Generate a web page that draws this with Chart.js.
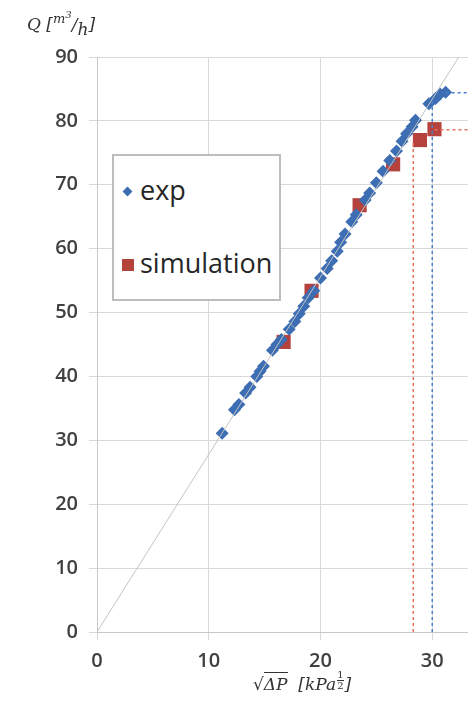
<!DOCTYPE html>
<html>
<head>
<meta charset="utf-8">
<script src="https://cdn.jsdelivr.net/npm/chart.js@4.4.1/dist/chart.umd.min.js"></script>
<style>
  html, body { margin: 0; padding: 0; background: #fff; }
  #wrap { position: relative; width: 468px; height: 701px; overflow: hidden; }
  #chart { position: absolute; left: 0; top: 0; }
  .mathtxt { position: absolute; font-family: 'DejaVu Serif', serif; font-style: italic; color: #333; white-space: nowrap; }
  #ytitle { left: 27px; top: 14px; font-size: 17px; }
  #xtitle { left: 253px; top: 674px; font-size: 17px; }
  .up { position: relative; top: -7px; font-size: 13px; }
  .dn { position: relative; top: 5px; }
  .frac { display: inline-block; vertical-align: middle; font-size: 10px; line-height: 10px; text-align: center; font-style: normal; position: relative; top: -5px; margin: 0 1px; }
  .frac b { display: block; font-weight: normal; }
  .frac .den { border-top: 1px solid #333; }
  .ovl { border-top: 1px solid #333; padding-top: 1px; }
  #legend { position: absolute; left: 112px; top: 154px; width: 165px; height: 143px; border: 2px solid #bdbdbd; background: #fff; font-family: 'Open Sans', sans-serif; font-size: 27px; color: #262626; }
  .lrow { position: absolute; left: 0; height: 34px; line-height: 34px; }
  .lrow span.txt { position: absolute; left: 26px; top: 0; }
  .mk { position: absolute; }
  .mk.exp { left: 10px; top: 15px; width: 7px; height: 7px; background: #3d6db3; transform: rotate(45deg); }
  .mk.sim { left: 8px; top: 13px; width: 12px; height: 12px; background: #b5423d; }
</style>
</head>
<body>
<div id="wrap">
  <canvas id="chart" width="468" height="701"></canvas>
  <div id="ytitle" class="mathtxt">Q [<span class="up">m<sup style="font-size:10px">3</sup></span>/<span class="dn">h</span>]</div>
  <div id="xtitle" class="mathtxt"><span style="font-style:normal">√</span><span class="ovl">ΔP</span>&nbsp; [kPa<span class="frac"><b>1</b><b class="den">2</b></span>]</div>
  <div id="legend">
    <div class="lrow" style="top:17px"><span class="mk exp"></span><span class="txt">exp</span></div>
    <div class="lrow" style="top:90px"><span class="mk sim"></span><span class="txt">simulation</span></div>
  </div>
</div>
<script>
// ── Data ─────────────────────────────────────────────────────────
const xTicks = [0, 10, 20, 30];
const yTicks = [0, 10, 20, 30, 40, 50, 60, 70, 80, 90];

// exp (blue diamonds)
const expX = [11.2, 12.3, 12.7, 13.3, 13.7, 14.3, 14.6, 14.9, 15.7, 16.1, 16.5, 17.2, 17.7,
              18.1, 18.5, 18.9, 19.4, 20.0, 20.6, 21.0, 21.5, 21.8, 22.2, 22.8, 23.2, 24.0,
              24.4, 25.0, 25.6, 26.2, 26.8, 27.3, 27.7, 28.2, 28.5, 29.7, 30.3, 30.7, 31.2];
const expY = [31.1, 34.8, 35.6, 37.4, 38.3, 40.0, 40.8, 41.6, 44.1, 45.0, 45.8, 47.4, 48.6,
              49.8, 51.0, 52.3, 53.4, 55.4, 56.9, 58.1, 59.6, 61.0, 62.3, 64.2, 65.3, 67.6,
              68.7, 70.3, 72.1, 73.8, 75.3, 76.8, 78.0, 79.1, 80.1, 82.7, 83.5, 84.2, 84.5];

// simulation (red squares)
const simX = [16.7, 19.2, 23.5, 26.5, 28.9, 30.2];
const simY = [45.4, 53.4, 66.8, 73.2, 77.0, 78.7];

// thin reference line through origin
const fitX = [0, 33.2];
const fitY = [0, 92.3];

// dotted guide lines
const expGuideX = [30.0, 30.0, 31.2, 33.2];
const expGuideY = [0, 83.6, 84.4, 84.4];
const simGuideX = [28.3, 28.3, 30.2, 33.2];
const simGuideY = [0, 77.0, 78.6, 78.6];

const X_MAX = 33.2;
const Y_MAX = 90;

const pts = (xs, ys) => xs.map((x, i) => ({ x, y: ys[i] }));
const seg = (xs, ys, a, b) => [{ x: xs[a], y: ys[a] }, { x: xs[b], y: ys[b] }];

// ── Chart ────────────────────────────────────────────────────────
const GRID = '#d9d9d9';
const TICK_FONT = { family: "'Open Sans', sans-serif", size: 20, weight: '600' };

const lineDs = (data, color, width, dash) => ({
  type: 'line', data, borderColor: color, borderWidth: width, borderDash: dash,
  pointRadius: 0, showLine: true, fill: false, tension: 0,
});

new Chart(document.getElementById('chart').getContext('2d'), {
  type: 'scatter',
  data: {
    datasets: [
      lineDs(pts(fitX, fitY), '#c4c4c4', 1, []),
      lineDs(seg(expGuideX, expGuideY, 0, 1), '#4a7fcf', 1.5, [3, 3]),
      lineDs(seg(expGuideX, expGuideY, 2, 3), '#4a7fcf', 1.5, [3, 3]),
      lineDs(seg(simGuideX, simGuideY, 0, 1), '#e5765a', 1.5, [3, 3]),
      lineDs(seg(simGuideX, simGuideY, 2, 3), '#e5765a', 1.5, [3, 3]),
      {
        label: 'exp',
        data: pts(expX, expY),
        pointStyle: 'rectRot',
        pointRadius: 6.5,
        backgroundColor: '#3d6db3',
        borderColor: '#3d6db3',
        borderWidth: 0,
      },
      {
        label: 'simulation',
        data: pts(simX, simY),
        pointStyle: 'rect',
        pointRadius: 10,
        backgroundColor: '#b5423d',
        borderColor: '#b5423d',
        borderWidth: 0,
      },
    ],
  },
  options: {
    responsive: false,
    animation: false,
    devicePixelRatio: 1,
    layout: { autoPadding: false, padding: { top: 57, left: 0, right: 0, bottom: 0 } },
    plugins: { legend: { display: false }, tooltip: { enabled: false } },
    scales: {
      x: {
        type: 'linear', min: 0, max: X_MAX,
        afterBuildTicks: s => { s.ticks = xTicks.map(v => ({ value: v })); },
        afterFit: s => { s.height = 69; s.paddingLeft = 0; s.paddingRight = 0; },
        grid: { color: GRID, lineWidth: 1, tickLength: 8 },
        border: { color: '#c8c8c8' },
        ticks: { color: '#404040', font: TICK_FONT, padding: 9, maxRotation: 0 },
      },
      y: {
        type: 'linear', min: 0, max: Y_MAX,
        afterBuildTicks: s => { s.ticks = yTicks.map(v => ({ value: v })); },
        afterFit: s => { s.width = 97; },
        grid: { color: GRID, lineWidth: 1, tickLength: 8 },
        border: { color: '#c8c8c8' },
        ticks: { color: '#404040', font: TICK_FONT, padding: 11 },
      },
    },
  },
});
</script>
</body>
</html>
